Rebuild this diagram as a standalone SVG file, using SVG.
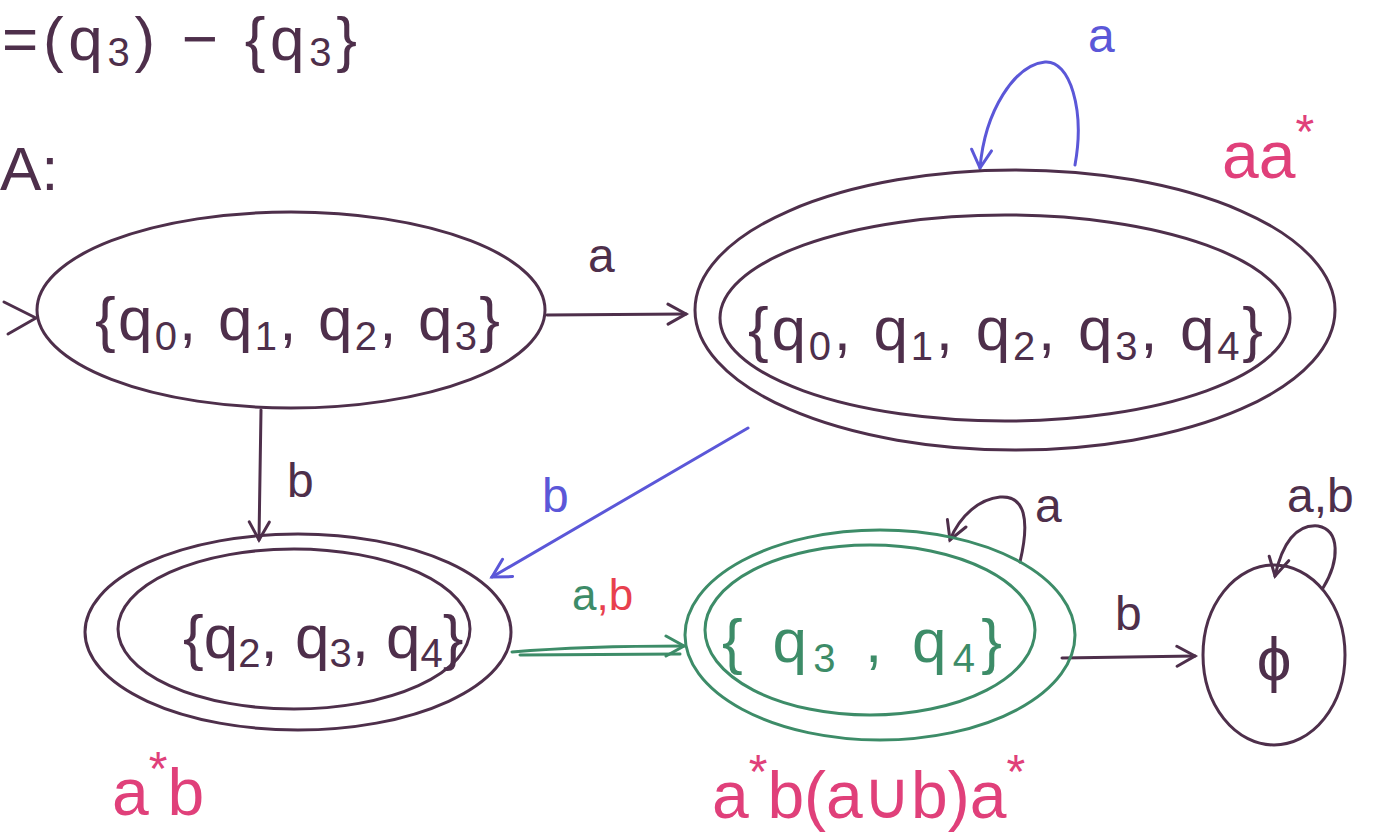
<svg xmlns="http://www.w3.org/2000/svg" width="1393" height="834" viewBox="0 0 1393 834">
<style>
.ink{fill:none;stroke:#4e2f4b;stroke-width:3;stroke-linecap:round;stroke-linejoin:round}
.blue{fill:none;stroke:#5b57d8;stroke-width:3;stroke-linecap:round;stroke-linejoin:round}
.green{fill:none;stroke:#3d8c68;stroke-width:3;stroke-linecap:round;stroke-linejoin:round}
text{font-family:"Liberation Sans","DejaVu Sans",sans-serif}
.t{fill:#4e2f4b;font-size:62px}
.tg{fill:#3d8c68;font-size:62px}
.lb{fill:#4e2f4b;font-size:48px}
.lbb{fill:#5b57d8;font-size:48px}
.pk{fill:#e0407a;font-size:66px}
.sub{font-size:40px}
</style>
<defs>
<marker id="ahb" markerWidth="24" markerHeight="24" refX="20" refY="12" orient="auto" markerUnits="userSpaceOnUse"><path d="M2,2 L20,12 L2,22" fill="none" stroke="#5b57d8" stroke-width="3" stroke-linecap="round"/></marker>
<marker id="ahk" markerWidth="24" markerHeight="24" refX="20" refY="12" orient="auto" markerUnits="userSpaceOnUse"><path d="M2,2 L20,12 L2,22" fill="none" stroke="#4e2f4b" stroke-width="3" stroke-linecap="round"/></marker>
<marker id="ahg" markerWidth="24" markerHeight="24" refX="20" refY="12" orient="auto" markerUnits="userSpaceOnUse"><path d="M2,2 L20,12 L2,22" fill="none" stroke="#3d8c68" stroke-width="3" stroke-linecap="round"/></marker>
</defs>

<g id="header">
<text class="t" x="2" y="60" font-size="52" textLength="355" lengthAdjust="spacing">=(q<tspan class="sub" font-size="34" dy="6">3</tspan><tspan dy="-6">)  −  {q</tspan><tspan class="sub" font-size="34" dy="6">3</tspan><tspan dy="-6">}</tspan></text>
<text class="t" x="0" y="190">A:</text>
</g>

<g id="connectors">
<path class="ink" d="M4,302 L36,318 L8,334"/>
<path class="ink" d="M547,315 L686,314" marker-end="url(#ahk)"/>
<text class="lb" x="588" y="272">a</text>
<path class="blue" d="M1075,165 C1085,110 1070,60 1045,62 C1015,65 985,110 980,168" marker-end="url(#ahb)"/>
<text class="lbb" x="1088" y="52">a</text>
<path class="ink" d="M261,410 L259,540" marker-end="url(#ahk)"/>
<text class="lb" x="287" y="497">b</text>
<path class="blue" d="M748,428 L492,577" marker-end="url(#ahb)"/>
<text class="lbb" x="542" y="512">b</text>
<path class="green" d="M512,652 C560,648 620,646 684,646" marker-end="url(#ahg)"/>
<path class="green" d="M520,655 L680,654"/>
<text x="572" y="610" font-size="44"><tspan fill="#3d8c68">a</tspan><tspan fill="#e8404e">,b</tspan></text>
<path class="ink" d="M1020,562 C1030,520 1025,495 1000,497 C980,499 960,515 950,540" marker-end="url(#ahk)"/>
<text class="lb" x="1035" y="522">a</text>
<path class="ink" d="M1062,658 L1195,656" marker-end="url(#ahk)"/>
<text class="lb" x="1115" y="630">b</text>
<path class="ink" d="M1323,588 C1340,560 1340,530 1318,526 C1295,524 1282,545 1275,576" marker-end="url(#ahk)"/>
<text class="lb" x="1287" y="512">a,b</text>
</g>

<g id="n0">
<ellipse class="ink" cx="291" cy="310" rx="254" ry="98"/>
<text class="t" x="95" y="340" textLength="405" lengthAdjust="spacing">{q<tspan class="sub" dy="10">0</tspan><tspan dy="-10">, q</tspan><tspan class="sub" dy="10">1</tspan><tspan dy="-10">, q</tspan><tspan class="sub" dy="10">2</tspan><tspan dy="-10">, q</tspan><tspan class="sub" dy="10">3</tspan><tspan dy="-10">}</tspan></text>
</g>

<g id="n1">
<ellipse class="ink" cx="1015" cy="310" rx="320" ry="140"/>
<ellipse class="ink" cx="1005" cy="318" rx="285" ry="103"/>
<text class="t" x="748" y="350" textLength="515" lengthAdjust="spacing">{q<tspan class="sub" dy="10">0</tspan><tspan dy="-10">, q</tspan><tspan class="sub" dy="10">1</tspan><tspan dy="-10">, q</tspan><tspan class="sub" dy="10">2</tspan><tspan dy="-10">, q</tspan><tspan class="sub" dy="10">3</tspan><tspan dy="-10">, q</tspan><tspan class="sub" dy="10">4</tspan><tspan dy="-10">}</tspan></text>
<text class="pk" x="1222" y="178">aa<tspan font-size="48" dy="-30">*</tspan></text>
</g>

<g id="n2">
<ellipse class="ink" cx="298" cy="632" rx="213" ry="98"/>
<ellipse class="ink" cx="294" cy="629" rx="176" ry="80"/>
<text class="t" x="183" y="658" font-size="56">{q<tspan class="sub" font-size="36" dy="9">2</tspan><tspan dy="-9">, q</tspan><tspan class="sub" font-size="36" dy="9">3</tspan><tspan dy="-9">, q</tspan><tspan class="sub" font-size="36" dy="9">4</tspan><tspan dy="-9">}</tspan></text>
<text class="pk" x="112" y="815">a<tspan font-size="48" dy="-30">*</tspan><tspan dy="30">b</tspan></text>
</g>

<g id="n3">
<ellipse class="green" cx="880" cy="635" rx="195" ry="105"/>
<ellipse class="green" cx="870" cy="630" rx="165" ry="85"/>
<text class="tg" x="722" y="662" textLength="280" lengthAdjust="spacing">{ q<tspan class="sub" dy="10">3</tspan><tspan dy="-10"> , q</tspan><tspan class="sub" dy="10">4</tspan><tspan dy="-10">}</tspan></text>
<text class="pk" x="712" y="818">a<tspan font-size="48" dy="-30">*</tspan><tspan dy="30">b(a∪b)a</tspan><tspan font-size="48" dy="-30">*</tspan></text>
</g>

<g id="n4">
<ellipse class="ink" cx="1274" cy="655" rx="71" ry="90"/>
<text class="t" x="1274" y="680" text-anchor="middle" font-size="76">ϕ</text>
</g>
</svg>
